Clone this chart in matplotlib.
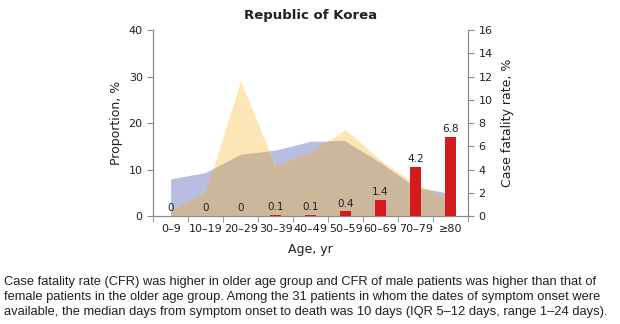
import numpy as np
import matplotlib.pyplot as plt
from matplotlib.ticker import MultipleLocator, FixedLocator

## data
age_groups = ['0–9', '10–19', '20–29', '30–39', '40–49', '50–59', '60–69', '70–79', '≥80']
male_prop = [8.0, 9.4, 13.3, 14.2, 16.1, 16.1, 11.5, 6.2, 4.9]
female_prop = [1.0, 5.0, 29.1, 10.6, 13.6, 18.6, 12.0, 7.0, 3.4]
cfr = [0, 0, 0, 0.1, 0.1, 0.4, 1.4, 4.2, 6.8]
cfr_labels = ['0', '0', '0', '0.1', '0.1', '0.4', '1.4', '4.2', '6.8']

caption = ("Case fatality rate (CFR) was higher in older age group and CFR of male patients was higher than that of\n"
           "female patients in the older age group. Among the 31 patients in whom the dates of symptom onset were\n"
           "available, the median days from symptom onset to death was 10 days (IQR 5–12 days, range 1–24 days).")

blue = '#b9bde0'
yellow = '#fde6b5'
tan = '#cdb79a'
red = '#d31a1f'
spine_c = '#8a8a8a'
txt_c = '#231f20'

plt.rcParams['font.family'] = ['DejaVu Sans']
fig = plt.figure(figsize=(6.2, 3.24), dpi=100)
ax = fig.add_axes([0.247, 0.333, 0.508, 0.574])
x = np.arange(len(age_groups))

ax.fill_between(x, 0, male_prop, color=blue, lw=0, zorder=1)
yf = ax.fill_between(x, 0, female_prop, color=yellow, lw=0, zorder=2)
ov = ax.fill_between(x, 0, male_prop, color=tan, lw=0, zorder=3)
ov.set_clip_path(yf.get_paths()[0], ax.transData)

ax.set_xlim(-0.5, 8.5)
ax.set_ylim(0, 40)
ax.yaxis.set_major_locator(MultipleLocator(10))
ax.set_xticks(x)
ax.set_xticklabels(age_groups)
ax.xaxis.set_minor_locator(FixedLocator(np.arange(-0.5, 9, 1)))
ax.tick_params(axis='x', which='major', length=0, pad=6, labelsize=8, colors=txt_c)
ax.tick_params(axis='x', which='minor', length=4, color=spine_c, direction='out')
ax.tick_params(axis='y', length=4, color=spine_c, labelsize=8, labelcolor=txt_c)
ax.set_ylabel('Proportion, %', fontsize=9, color=txt_c, labelpad=4)
ax.set_xlabel('Age, yr', fontsize=9, color=txt_c, labelpad=6)
ax.set_title('Republic of Korea', fontsize=9.5, fontweight='bold', color=txt_c, pad=8)

ax2 = ax.twinx()
ax2.bar(x, cfr, width=0.3, color=red, zorder=4)
for i, v in enumerate(cfr):
    ax2.text(x[i], v + 0.25, cfr_labels[i], ha='center', va='bottom', fontsize=7.5, color=txt_c)
ax2.set_ylim(0, 16)
ax2.yaxis.set_major_locator(MultipleLocator(2))
ax2.tick_params(axis='y', length=4, color=spine_c, labelsize=8, labelcolor=txt_c)
ax2.set_ylabel('Case fatality rate, %', fontsize=9, color=txt_c, labelpad=6)

for a in (ax, ax2):
    a.spines['top'].set_visible(False)
    for s in ('left', 'right', 'bottom'):
        a.spines[s].set_color(spine_c)
        a.spines[s].set_linewidth(0.8)

# caption: shrink to fit the width of the reference text block
cap = fig.text(0.006, 0.083, caption, fontsize=9, color=txt_c, va='center', ha='left',
               family=['Liberation Sans', 'DejaVu Sans'], linespacing=1.35)
fig.canvas.draw()
w = cap.get_window_extent().width
cap.set_fontsize(9 * 604 / w)

fig.savefig('out.png', dpi=100)
